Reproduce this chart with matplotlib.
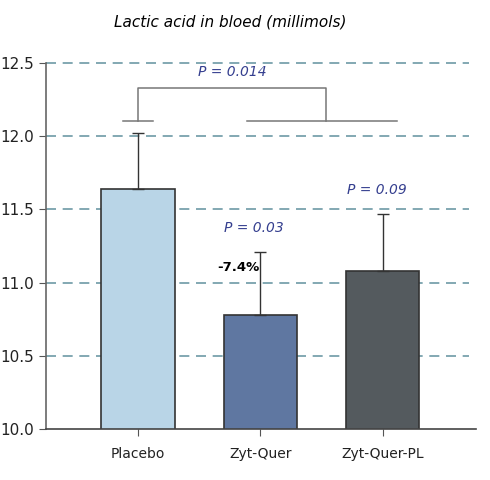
import numpy as np
import matplotlib.pyplot as plt

groups = ['Placebo', 'Zyt-Quer', 'Zyt-Quer-PL']
means = [11.64, 10.78, 11.08]
errs = [0.38, 0.43, 0.39]
colors = ['#b9d5e7', '#5f77a1', '#545a5e']
p_labels = ['P = 0.03', 'P = 0.09']
p_y = [11.37, 11.63]
pct_label = '-7.4%'
yticks = [10.0, 10.5, 11.0, 11.5, 12.0, 12.5]

fig = plt.figure(figsize=(4.9, 4.8), dpi=100)
ax = fig.add_axes([0.094, 0.106, 0.877, 0.763])

x = np.arange(len(groups))
for yt in yticks[1:]:
    ax.axhline(yt, color='#6d9aa6', lw=1.2, ls=(0, (6, 4)), xmax=0.985,
               zorder=0, clip_on=False)

ax.bar(x, means, width=0.6, color=colors, edgecolor='#333333', lw=1.2, zorder=2)
ax.errorbar(x, means, yerr=[np.zeros(3), errs], fmt='none', ecolor='#333333',
            elinewidth=1, capsize=4.5, capthick=1, zorder=3)

ax.set_xlim(-0.75, 2.76)
ax.set_ylim(10.0, 12.5)
ax.set_yticks(yticks)
ax.set_yticklabels(['%.1f' % v for v in yticks], fontsize=11, color='#222222')
ax.set_xticks(x)
ax.set_xticklabels(groups, fontsize=10, color='#222222')
ax.tick_params(axis='y', direction='out', length=5, color='#555555')
ax.tick_params(axis='x', direction='out', length=5, color='#555555', pad=8)
for s in ['top', 'right']:
    ax.spines[s].set_visible(False)
ax.spines['left'].set_color('#666666')
ax.spines['bottom'].set_color('#444444')
ax.spines['left'].set_linewidth(1.2)
ax.spines['bottom'].set_linewidth(1.2)

# comparison bracket
bc = '#777777'
ax.plot([0, 0, 1.54, 1.54], [12.10, 12.33, 12.33, 12.10], color=bc, lw=1.1, zorder=3)
ax.plot([0.89, 2.12], [12.10, 12.10], color=bc, lw=1.1, zorder=3)
ax.plot([-0.12, 0.12], [12.10, 12.10], color=bc, lw=1.1, zorder=3)
ax.text(0.77, 12.44, 'P = 0.014', color='#353f8f', style='italic', fontsize=10,
        ha='center', va='center')

for xi, lab, yy in zip([1, 2], p_labels, p_y):
    ax.text(xi - 0.05, yy, lab, color='#353f8f', style='italic', fontsize=10,
            ha='center', va='center')
ax.text(0.82, 11.10, pct_label, color='black', fontsize=9.5, fontweight='bold',
        family=['Liberation Sans Narrow', 'DejaVu Sans'], ha='center', va='center')

fig.text(0.47, 0.955, 'Lactic acid in bloed (millimols)', style='italic',
         fontsize=11, ha='center', va='center')

fig.savefig('out.png')
